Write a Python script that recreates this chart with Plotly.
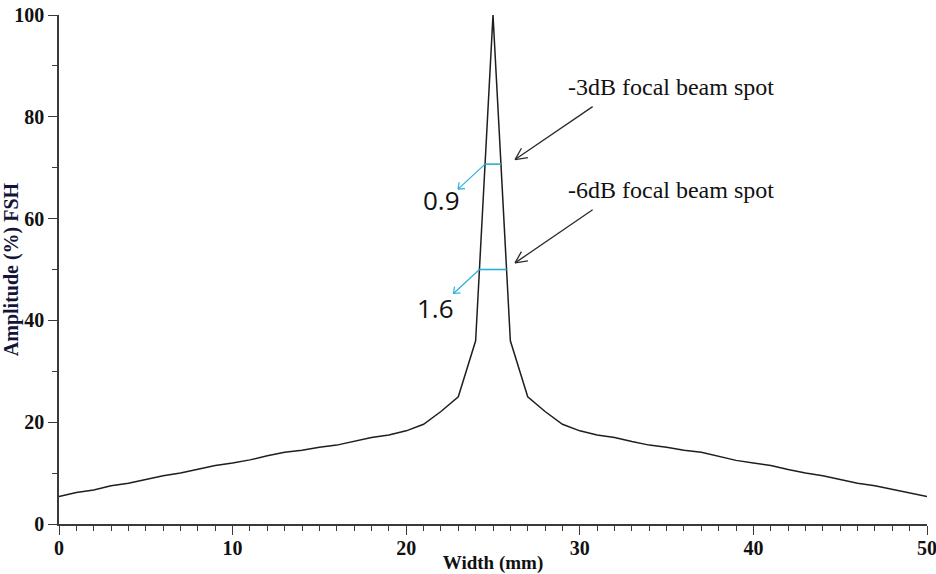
import numpy as np
import plotly.graph_objects as go

# Lateral beam profile across the focal spot
width_mm = list(range(51))
amplitude = [5.4, 6.2, 6.7, 7.5, 8.0, 8.7, 9.5, 10.0, 10.7, 11.5,
             12.0, 12.6, 13.4, 14.1, 14.5, 15.1, 15.5, 16.2, 17.0, 17.5,
             18.3, 19.6, 22.1, 25.0, 36.0, 100.0, 36.0, 25.0, 22.1, 19.6,
             18.3, 17.5, 17.0, 16.2, 15.5, 15.1, 14.5, 14.1, 13.3, 12.5,
             12.0, 11.5, 10.7, 10.0, 9.5, 8.7, 8.0, 7.5, 6.8, 6.2, 5.4]

# Beam-spot levels (fraction of full screen height)
db_labels = ["-3dB focal beam spot", "-6dB focal beam spot"]
db_levels = [70.7, 50.0]

# Figure geometry
W, H = 936, 574
ML, MR, MT, MB = 59, 9, 15, 50
X_RANGE = [0, 50]
Y_RANGE = [0, 100]
SX = (W - ML - MR) / (X_RANGE[1] - X_RANGE[0])   # px per mm
SY = (H - MT - MB) / (Y_RANGE[1] - Y_RANGE[0])   # px per %

CYAN = "#2aaedb"
DARK = "#2b2b2b"

x = np.array(width_mm, dtype=float)
y = np.array(amplitude, dtype=float)
ipk = int(np.argmax(y))


def level_crossings(level):
    """Left/right x where the profile crosses a given amplitude."""
    left = np.interp(level, y[:ipk + 1], x[:ipk + 1])
    right = np.interp(level, y[ipk:][::-1], x[ipk:][::-1])
    return left, right


def arrow_xy(tx, ty, hx, hy, head_px, half_angle_deg):
    """Shaft plus open V head, in data coordinates."""
    dxp = (tx - hx) * SX
    dyp = -(ty - hy) * SY
    n = np.hypot(dxp, dyp)
    ux, uy = dxp / n, dyp / n
    xs, ys = [tx, hx, None], [ty, hy, None]
    for s in (1, -1):
        a = np.radians(half_angle_deg) * s
        wx = (ux * np.cos(a) - uy * np.sin(a)) * head_px
        wy = (ux * np.sin(a) + uy * np.cos(a)) * head_px
        xs += [hx, hx + wx / SX, None]
        ys += [hy, hy - wy / SY, None]
    return xs, ys


fig = go.Figure()

fig.add_trace(go.Scatter(
    x=width_mm, y=amplitude, mode="lines",
    line=dict(color="#1e1e1e", width=1.5),
    cliponaxis=False, showlegend=False, hoverinfo="skip",
))

annotations = []

# black callout arrows and texts (text centre, arrow tail, arrow head)
callouts = [
    ((35.25, 85.9), (30.74, 82.0), (26.27, 71.6)),
    ((35.25, 65.7), (30.74, 61.75), (26.27, 51.3)),
]
# cyan pointer offsets (px) and width-label centres
cyan_offset_px = [(-27, 25), (-26, 24)]
width_label_pos = [(22.06, 63.7), (21.66, 42.5)]

for i, level in enumerate(db_levels):
    xl, xr = level_crossings(level)
    # spot width marker
    fig.add_trace(go.Scatter(
        x=[xl, xr], y=[level, level], mode="lines",
        line=dict(color=CYAN, width=1.6),
        showlegend=False, hoverinfo="skip",
    ))
    # cyan pointer to the width value
    ox, oy = cyan_offset_px[i]
    hx, hy = xl + ox / SX, level - oy / SY
    ax_, ay_ = arrow_xy(xl, level, hx, hy, 7, 38)
    fig.add_trace(go.Scatter(
        x=ax_, y=ay_, mode="lines",
        line=dict(color=CYAN, width=1.2),
        showlegend=False, hoverinfo="skip",
    ))
    lx, ly = width_label_pos[i]
    annotations.append(dict(
        x=lx, y=ly, xref="x", yref="y", text=f"{xr - xl:.1f}",
        showarrow=False,
        font=dict(family="Open Sans", size=26, color="#111111"),
    ))

    (txc, tyc), (tx, ty), (hx2, hy2) = callouts[i]
    bx, by = arrow_xy(tx, ty, hx2, hy2, 13, 26)
    fig.add_trace(go.Scatter(
        x=bx, y=by, mode="lines",
        line=dict(color=DARK, width=1.3),
        showlegend=False, hoverinfo="skip",
    ))
    annotations.append(dict(
        x=txc, y=tyc, xref="x", yref="y", text=db_labels[i],
        showarrow=False,
        font=dict(family="Liberation Serif", size=24, color="#111111"),
    ))

axis_common = dict(
    showline=True, linecolor="#3a3a3a", linewidth=1.6,
    ticks="outside", ticklen=9, tickwidth=1.4, tickcolor="#3a3a3a",
    showgrid=False, zeroline=False, automargin=False,
    ticklabeloverflow="allow",
    tickfont=dict(family="Liberation Serif", size=20, color="#111111",
                  weight="bold"),
)

fig.update_layout(
    width=W, height=H,
    margin=dict(l=ML, r=MR, t=MT, b=MB),
    paper_bgcolor="white", plot_bgcolor="white",
    annotations=annotations,
    xaxis=dict(
        range=X_RANGE, tickvals=[0, 10, 20, 30, 40, 50],
        ticklabelstandoff=-4,
        minor=dict(dtick=1, ticks="outside", ticklen=5, tickwidth=1.2,
                   tickcolor="#3a3a3a"),
        title=dict(text="Width (mm)",
                   font=dict(family="Liberation Serif", size=19,
                             color="#111111", weight="bold")),
        **axis_common,
    ),
    yaxis=dict(
        range=Y_RANGE, tickvals=[0, 20, 40, 60, 80, 100],
        minor=dict(dtick=10, ticks="outside", ticklen=5, tickwidth=1.2,
                   tickcolor="#3a3a3a"),
        title=dict(text="Amplitude (%) FSH",
                   font=dict(family="Liberation Serif", size=20,
                             color="#14143a", weight="bold")),
        **axis_common,
    ),
)

fig.write_html("out.html")
